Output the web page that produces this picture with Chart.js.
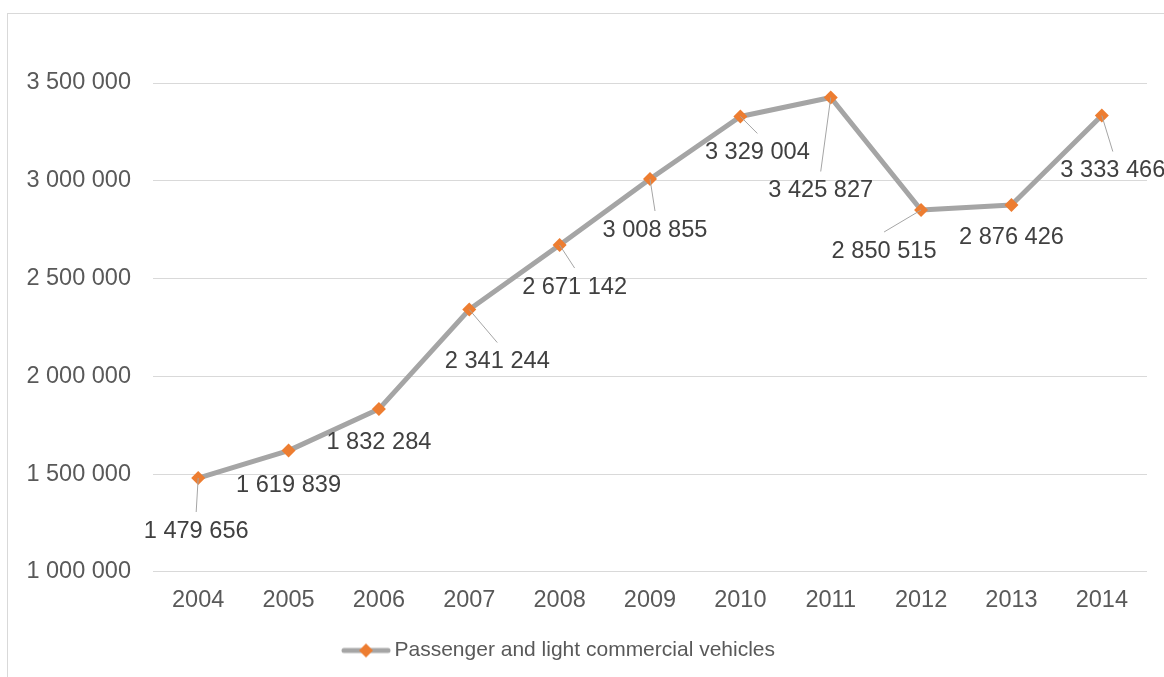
<!DOCTYPE html>
<html>
<head>
<meta charset="utf-8">
<script src="https://cdn.jsdelivr.net/npm/chart.js@4"></script>
<style>
  html, body { margin: 0; padding: 0; background: #ffffff; overflow: hidden; }
  #wrap { position: relative; width: 1164px; height: 677px; }
  #frame {
    position: absolute; left: 7px; top: 13px; width: 1300px; height: 800px;
    border: 1px solid #d9d9d9; pointer-events: none;
  }
</style>
</head>
<body>
<div id="wrap">
  <canvas id="chart" width="1164" height="677"></canvas>
  <div id="frame"></div>
</div>
<script>
const anos = ["2004", "2005", "2006", "2007", "2008", "2009", "2010", "2011", "2012", "2013", "2014"];
const veiculos = [1479656, 1619839, 1832284, 2341244, 2671142, 3008855, 3329004, 3425827, 2850515, 2876426, 3333466];
const nomeSerie = "Passenger and light commercial vehicles";
const yMin = 1000000;
const yMax = 3500000;
const yPasso = 500000;

const corLinha = "#a5a5a5";
const corMarcador = "#ed7d31";
const corTexto = "#595959";
const corGrade = "#d9d9d9";
const fonte = "'Liberation Sans', Arial, sans-serif";

function formatarNumero(v) {
  return String(v).replace(/\B(?=(\d{3})+(?!\d))/g, " ");
}

// simbolo da legenda: linha cinza com losango laranja
function criarSimboloLegenda() {
  const c = document.createElement("canvas");
  c.width = 50;
  c.height = 16;
  const g = c.getContext("2d");
  g.strokeStyle = corLinha;
  g.lineWidth = 5;
  g.lineCap = "round";
  g.beginPath();
  g.moveTo(3, 8);
  g.lineTo(47, 8);
  g.stroke();
  g.fillStyle = corMarcador;
  g.beginPath();
  g.moveTo(25, 1);
  g.lineTo(32, 8);
  g.lineTo(25, 15);
  g.lineTo(18, 8);
  g.closePath();
  g.fill();
  return c;
}

// deslocamento dos rotulos em relacao ao ponto, e se tem linha de chamada
const rotulosPos = [
  { dx: -2, dy: 53, linha: true },
  { dx: 0, dy: 35, linha: false },
  { dx: 0, dy: 33, linha: false },
  { dx: 28, dy: 52, linha: true },
  { dx: 15, dy: 42, linha: true },
  { dx: 5, dy: 51, linha: true },
  { dx: 17, dy: 36, linha: true },
  { dx: -10, dy: 93, linha: true },
  { dx: -37, dy: 41, linha: true },
  { dx: 0, dy: 33, linha: false },
  { dx: 11, dy: 55, linha: true },
];

const pluginRotulos = {
  id: "rotulos",
  afterDatasetsDraw(chart) {
    const ctx = chart.ctx;
    const meta = chart.getDatasetMeta(0);
    ctx.save();
    meta.data.forEach((ponto, i) => {
      const pos = rotulosPos[i];
      const lx = ponto.x + pos.dx;
      const ly = ponto.y + pos.dy;
      if (pos.linha) {
        ctx.strokeStyle = corLinha;
        ctx.lineWidth = 1;
        ctx.beginPath();
        ctx.moveTo(ponto.x, ponto.y);
        ctx.lineTo(lx, ly - 19);
        ctx.stroke();
      }
      ctx.font = "23.6px " + fonte;
      ctx.fillStyle = "#404040";
      ctx.textAlign = "center";
      ctx.textBaseline = "middle";
      ctx.fillText(formatarNumero(veiculos[i]), lx, ly);
    });
    ctx.restore();
  }
};

const pluginLegenda = {
  id: "legendaDesloc",
  afterLayout(chart) {
    chart.legend.left -= 12;
    chart.legend.right -= 12;
  }
};

const chart = new Chart(document.getElementById("chart"), {
  type: "line",
  data: {
    labels: anos,
    datasets: [{
      label: nomeSerie,
      data: veiculos,
      borderColor: corLinha,
      borderWidth: 5,
      borderJoinStyle: "round",
      tension: 0,
      pointStyle: "rectRot",
      pointRadius: 7,
      pointBackgroundColor: corMarcador,
      pointBorderColor: corMarcador,
      pointBorderWidth: 0,
      fill: false,
    }],
  },
  options: {
    responsive: false,
    animation: false,
    layout: {
      padding: { top: 83, right: 17, left: 0, bottom: 6 }
    },
    plugins: {
      title: { display: false },
      tooltip: { enabled: false },
      legend: {
        position: "bottom",
        labels: {
          usePointStyle: true,
          pointStyle: criarSimboloLegenda(),
          pointStyleWidth: 36,
          color: corTexto,
          padding: 10,
          font: { family: fonte, size: 21 }
        }
      }
    },
    scales: {
      x: {
        offset: true,
        grid: { display: false, drawTicks: false },
        border: { display: false },
        ticks: {
          color: corTexto,
          padding: 15,
          font: { family: fonte, size: 23.5 }
        }
      },
      y: {
        min: yMin,
        max: yMax,
        grid: { color: corGrade, lineWidth: 1, drawTicks: false },
        border: { display: false },
        afterFit(scale) { scale.width = 153; },
        ticks: {
          stepSize: yPasso,
          color: corTexto,
          padding: 22,
          font: { family: fonte, size: 23.5 },
          callback: (v) => formatarNumero(v)
        }
      }
    }
  },
  plugins: [pluginRotulos, pluginLegenda]
});
</script>
</body>
</html>
